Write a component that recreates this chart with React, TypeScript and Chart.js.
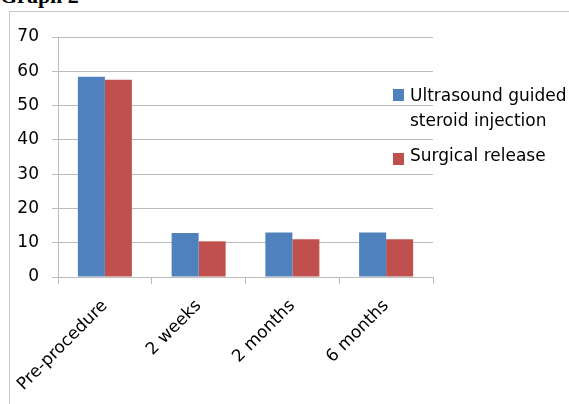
import React, { useEffect, useRef } from "react";
import { Chart, registerables } from "chart.js";

Chart.register(...registerables);

const categories = ["Pre-procedure", "2 weeks", "2 months", "6 months"];
const seriesNames = ["Ultrasound guided steroid injection", "Surgical release"];
const ultrasoundValues = [58.4, 12.8, 13.0, 13.0];
const surgicalValues = [57.5, 10.4, 11.0, 11.0];
const yTicks = [0, 10, 20, 30, 40, 50, 60, 70];

const BLUE = "#4F81BD";
const RED = "#C0504D";
const GRID = "#BBBBBB";
const FONT = "'DejaVu Sans', sans-serif";

export default function App() {
  const canvasRef = useRef<HTMLCanvasElement | null>(null);

  useEffect(() => {
    const canvas = canvasRef.current;
    if (!canvas) return;
    const chart = new Chart(canvas, {
      type: "bar",
      data: {
        labels: categories,
        datasets: [
          {
            label: seriesNames[0],
            data: ultrasoundValues,
            backgroundColor: BLUE,
            borderWidth: 0,
            categoryPercentage: 0.576,
            barPercentage: 1,
          },
          {
            label: seriesNames[1],
            data: surgicalValues,
            backgroundColor: RED,
            borderWidth: 0,
            categoryPercentage: 0.576,
            barPercentage: 1,
          },
        ],
      },
      options: {
        responsive: false,
        animation: false,
        layout: { padding: { left: 0, top: 37, right: 136, bottom: 0 } },
        plugins: {
          legend: { display: false },
          tooltip: { enabled: false },
          title: { display: false },
        },
        scales: {
          x: {
            type: "category",
            grid: {
              drawOnChartArea: false,
              offset: true,
              drawTicks: true,
              tickLength: 7,
              color: GRID,
              lineWidth: 1,
            },
            border: { display: true, color: GRID, width: 1 },
            ticks: {
              maxRotation: 45,
              minRotation: 45,
              autoSkip: false,
              color: "#000",
              font: { family: FONT, size: 17 },
              padding: 12,
            },
            afterFit: (scale: any) => {
              scale.height = 127;
            },
          },
          y: {
            min: 0,
            max: 70,
            afterBuildTicks: (scale: any) => {
              scale.ticks = yTicks.map((v) => ({ value: v }));
            },
            grid: {
              color: GRID,
              lineWidth: 1,
              tickLength: 6,
              drawTicks: true,
            },
            border: { display: true, color: GRID, width: 1 },
            ticks: {
              color: "#000",
              font: { family: FONT, size: 17 },
              padding: 13,
            },
            afterFit: (scale: any) => {
              scale.width = 58;
            },
          },
        },
      },
    });
    return () => chart.destroy();
  }, []);

  const legendText: React.CSSProperties = {
    position: "absolute",
    left: 410,
    fontFamily: FONT,
    fontSize: 17,
    lineHeight: "25px",
    color: "#000",
    whiteSpace: "nowrap",
  };

  return (
    <div
      style={{
        position: "absolute",
        left: 0,
        top: 0,
        width: 569,
        height: 404,
        overflow: "hidden",
        background: "#fff",
      }}
    >
      <div
        style={{
          position: "absolute",
          left: 0,
          top: -15,
          fontFamily: "'Liberation Serif', serif",
          fontWeight: "bold",
          fontSize: 22,
          lineHeight: "22px",
          color: "#000",
          whiteSpace: "nowrap",
        }}
      >
        Graph 2
      </div>
      <div
        style={{
          position: "absolute",
          left: 9,
          top: 11,
          width: 700,
          height: 500,
          border: "1px solid #C8C8C8",
        }}
      />
      <canvas
        ref={canvasRef}
        width={569}
        height={404}
        style={{ position: "absolute", left: 0, top: 0, width: 569, height: 404 }}
      />
      <div style={{ position: "absolute", left: 393, top: 89, width: 11, height: 12, background: BLUE }} />
      <div style={{ ...legendText, top: 83 }}>
        Ultrasound guided
        <br />
        steroid injection
      </div>
      <div style={{ position: "absolute", left: 393, top: 153, width: 11, height: 12, background: RED }} />
      <div style={{ ...legendText, top: 143 }}>{seriesNames[1]}</div>
    </div>
  );
}
